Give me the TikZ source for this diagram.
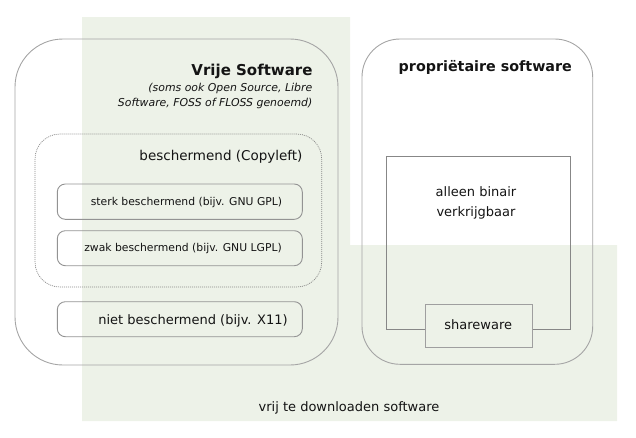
\documentclass[tikz,border=0pt]{standalone}
\usepackage{fontspec}
\setmainfont{DejaVu Sans}
\begin{document}
\begin{tikzpicture}[x=1pt,y=-1pt,
  box/.style={draw=#1,line width=0.9pt,inner sep=0pt,outer sep=0pt},
  lbl/.style={inner sep=0pt,text=black!92},
  big/.style={lbl,font=\fontsize{13}{15}\selectfont},
  small/.style={lbl,font=\fontsize{10.8}{13}\selectfont}]
\definecolor{bggreen}{RGB}{237,242,232}
\definecolor{outerline}{RGB}{165,165,165}
\definecolor{innerline}{RGB}{135,135,135}
\useasboundingbox (0,0) rectangle (636,437);
\fill[bggreen] (82,17) -- (350,17) -- (350,245) -- (617,245) -- (617,421) -- (82,421) -- cycle;
% free software
\node[box=outerline,rounded corners=48pt,minimum width=323pt,minimum height=326pt] (vrij) at (176.5,202) {};
\node[box=innerline,dash pattern=on 1pt off 1pt,line width=0.7pt,rounded corners=25pt,minimum width=286.7pt,minimum height=153pt] (copyleft) at (178.35,210.5) {};
\node[box=innerline!90,rounded corners=8pt,minimum width=245pt,minimum height=35.3pt] (sterk) at (179.8,201.65) {};
\node[box=innerline!90,rounded corners=8pt,minimum width=245pt,minimum height=35pt] (zwak) at (179.8,248.2) {};
\node[box=innerline!90,rounded corners=8pt,minimum width=245pt,minimum height=35pt] (niet) at (179.8,319.2) {};
\node[lbl,anchor=base east,font=\bfseries\fontsize{15}{18}\selectfont] (vrijt) at (312.7,75) {Vrije Software};
\node[small,anchor=base east,font=\itshape\fontsize{10.9}{13}\selectfont] (vrijs1) at (312.5,91) {(soms ook Open Source, Libre};
\node[small,anchor=base east,font=\itshape\fontsize{10.9}{13}\selectfont] (vrijs2) at (312.5,106) {Software, FOSS of FLOSS genoemd)};
\node[big,anchor=base east,font=\fontsize{13.5}{15}\selectfont] (copyt) at (302.7,160) {beschermend (Copyleft)};
\node[small,anchor=base] (sterkt) at (186.5,205) {sterk beschermend (bijv. GNU GPL)};
\node[small,anchor=base] (zwakt) at (183,251) {zwak beschermend (bijv. GNU LGPL)};
\node[big,anchor=base] (nietx) at (193,324) {niet beschermend (bijv. X11)};
% proprietary
\node[box=outerline,rounded corners=38pt,minimum width=230.7pt,minimum height=325.3pt] (prop) at (477.35,201.65) {};
\node[box=innerline,minimum width=183.3pt,minimum height=173pt] (binair) at (478.35,242.5) {};
\node[box=innerline!80,fill=bggreen,minimum width=106.6pt,minimum height=43.3pt] (share) at (479,325.65) {};
\node[lbl,anchor=base,font=\bfseries\fontsize{14.3}{17}\selectfont] (propt) at (485.3,71) {propriëtaire software};
\node[big,anchor=base] (bint1) at (476,196.7) {alleen binair};
\node[big,anchor=base] (bint2) at (476,216) {verkrijgbaar};
\node[big,anchor=base] (sharet) at (478.2,329.3) {shareware};
\node[big,anchor=base] (dl) at (349,411.5) {vrij te downloaden software};
\end{tikzpicture}
\end{document}
